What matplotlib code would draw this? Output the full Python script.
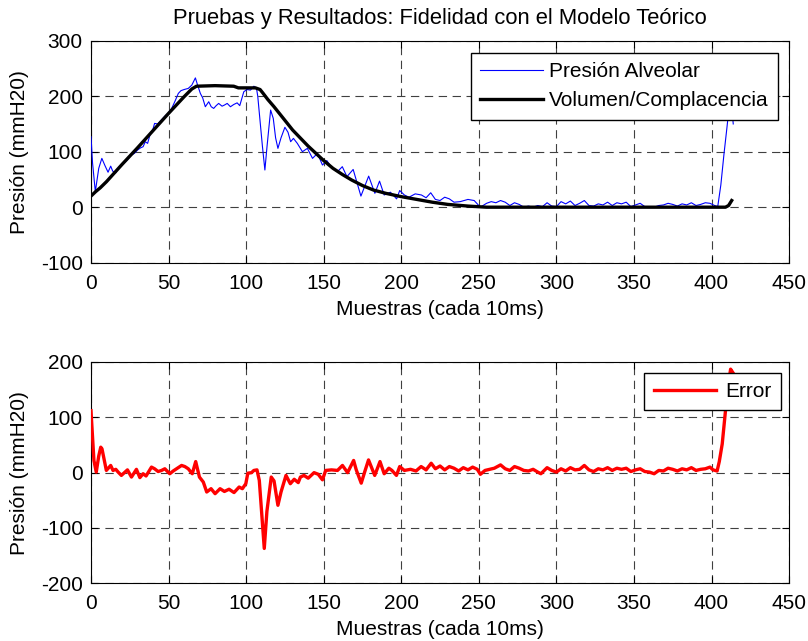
import numpy as np
import matplotlib
matplotlib.use("Agg")
import matplotlib.pyplot as plt

plt.rcParams["font.family"] = ["Liberation Sans", "DejaVu Sans"]
plt.rcParams["lines.scale_dashes"] = False
plt.rcParams["axes.unicode_minus"] = False

# --------------------------------------------------------------------------
# Data
# --------------------------------------------------------------------------
# Presión Alveolar (measured, blue)
PRES_X = [0, 1, 2.8, 5, 7, 9, 11, 12.7, 14, 16, 18, 20.7, 23, 26, 28, 30, 32,
          33.6, 35, 36.5, 38, 40, 41, 43, 45, 48, 50, 52, 54, 56.3, 58, 60,
          62.7, 65, 67.3, 68.5, 70.5, 72, 73.7, 75.9, 77.5, 79.1, 80.7, 82.3,
          84.5, 86, 87.8, 89.9, 92, 94.2, 95.9, 98.5, 100.5, 102.8, 105,
          106.7, 107.5, 108.9, 110.5, 112.1, 113.5, 115.8, 117.5, 119, 120.5,
          122.5, 125, 127, 128.7, 130.5, 133, 136.3, 139.5, 142.8, 146,
          149.2, 152, 155, 158.9, 162, 165, 169, 174, 179, 183, 186, 189, 193,
          197, 199, 202, 205, 209, 213, 216, 219, 222, 225, 228, 231, 234,
          238, 243, 247, 251, 255, 258, 261, 264, 267, 270, 273, 276, 279,
          282, 285, 288, 291, 294, 297, 300, 303, 306, 309, 312, 315, 318,
          321, 324, 327, 330, 333, 336, 339, 342, 345, 348, 351, 354, 357,
          360, 363, 366, 369, 372, 375, 378, 381, 384, 387, 390, 393, 396,
          399, 402, 404, 406, 408, 410, 411.5, 412.5, 414]
PRES_Y = [127, 80, 28, 70, 88, 75, 63, 74, 65, 62, 72, 78, 84, 94, 97, 103, 107,
          109, 118, 115, 130, 141, 151, 150, 156, 165, 170, 178, 190, 205, 210,
          212, 214, 220, 233, 222, 205, 197, 181, 190, 181, 178, 183, 187,
          182, 184, 187, 181, 185, 188, 183, 208, 212, 211, 218, 214, 200,
          157, 110, 67, 110, 175, 160, 125, 106, 125, 144, 135, 118, 124,
          115, 100, 106, 88, 97, 76, 84, 72, 64, 73, 55, 68, 20, 56, 25, 47,
          22, 27, 15, 30, 22, 18, 24, 22, 17, 26, 14, 12, 18, 15, 9, 10, 14,
          12, 0, 7, 10, 8, 12, 9, 3, 8, 5, 0, 2, 0, 3, 1, 8, 2, 1, 10, 6, 11,
          3, 7, 12, 3, 2, 6, 4, 9, 3, 8, 6, 9, 1, 4, 7, 1, 0, 0, 3, 4, 7, 5,
          2, 6, 4, 8, 3, 5, 8, 7, 3, 1, 40, 95, 145, 185, 196, 150]

# Volumen/Complacencia (model, black)
MODEL_X = [0, 3, 6, 10, 20, 30, 40, 50, 60, 65, 68, 80, 92, 95, 100, 106, 109,
           111, 114, 118, 122, 130, 140, 150, 156, 162, 168, 175, 182, 190,
           200, 210, 220, 230, 243, 255, 300, 350, 400, 409, 411, 413]
MODEL_Y = [20, 28, 35, 46, 77, 107, 138, 169, 199, 213, 218, 219, 218, 215,
           215, 215, 212, 205, 194, 181, 167, 139, 110, 84, 70, 59, 49, 39, 31,
           25, 19, 14, 9, 5, 2, 0, 0, 0, 0, 0, 3, 12]

# Error (red)
ERR_X = [0, 1.9, 3.4, 5, 6.3, 7.1, 9.9, 12.7, 14.2, 16, 17.5, 19.6, 21.5, 23.5,
         26.1, 29.3, 31.5, 33.6, 35.5, 39, 41, 43.3, 45.5, 47.6, 50.8, 53,
         55.2, 58.4, 60.5, 62.7, 65.3, 67.5, 69.9, 72.4, 74.6, 77.4, 80, 83.2,
         86, 89, 92.2, 95.5, 97.6, 99.8, 101.1, 103.5, 105, 107, 108.5, 110.2,
         111.7, 113.4, 116.2, 118, 120.5, 122.5, 125.7, 128.5, 131, 133.6, 135,
         137.3, 140, 143.8, 146.5, 149.2, 151.3, 155, 158.9, 162.1, 165.4,
         169.3, 171, 174.2, 176.5, 178.9, 182.9, 186.3, 189, 192, 194, 196.9,
         199, 202, 206, 209.5, 212.8, 216, 219.3, 222, 225, 228, 231, 234,
         237, 240, 243, 246, 249, 251, 254, 257, 260, 264, 267, 270, 273, 276,
         279, 282, 285, 288, 290, 294, 297, 300, 303, 306, 309, 312, 315, 318,
         321, 324, 327, 330, 333, 336, 339, 342, 345, 348, 351, 354, 357, 360,
         363, 366, 369, 372, 375, 378, 381, 384, 387, 390, 393, 396, 399, 401,
         403.6, 405, 406.9, 409, 411.2, 412.3, 413.7]
ERR_Y = [112, 22, 1, 30, 46, 43, 4, 13, 4, 6, 1, -5, 0, 5, -8, 6, -9, -2, -6,
         10, 7, 2, 4, 7, -2, 3, 7, 13, 11, 7, -2, 20, -8, -17, -35, -29, -38,
         -29, -34, -30, -36, -26, -29, -20, -1, 0, 4, 5, -14, -80, -137, -70,
         -8, -15, -59, -35, -5, -20, -12, -18, -8, -5, -10, 0, -3, -13, 4, 5,
         4, 13, 0, 22, 5, -19, 2, 23, -5, 20, -2, 8, 4, -5, 11, 4, 6, 3, 11,
         5, 17, 7, 12, 5, 11, 8, 3, 9, 5, 10, 6, -3, 4, 6, 8, 14, 7, 4, 11, 8,
         4, 3, 6, 1, -2, 9, 4, 1, 7, 3, 9, 5, 6, 13, 5, 2, 7, 5, 9, 4, 8, 6, 8,
         2, 5, 7, 2, 1, -2, 4, 3, 8, 6, 3, 7, 5, 9, 4, 6, 7, 10, 5, 3, 20, 52,
         112, 166, 187, 181]

TITLE = "Pruebas y Resultados: Fidelidad con el Modelo Teórico"
XLABEL = "Muestras (cada 10ms)"
YLABEL = "Presión (mmH20)"

FS = 15


def style_axes(ax, ylim, yticks):
    ax.set_xlim(0, 450)
    ax.set_ylim(*ylim)
    ax.set_xticks(np.arange(0, 451, 50))
    ax.set_yticks(yticks)
    ax.grid(True, color="0.25", linestyle=(0, (6, 4)), linewidth=0.8)
    ax.set_axisbelow(True)
    ax.tick_params(direction="in", length=5, width=0.8, top=True, right=True,
                   labelsize=FS, colors="black")
    ax.tick_params(axis="x", pad=8)
    ax.tick_params(axis="y", pad=6)
    for s in ax.spines.values():
        s.set_linewidth(0.8)
    ax.set_xlabel(XLABEL, fontsize=FS, labelpad=5)
    ax.set_ylabel(YLABEL, fontsize=FS)
    ax.yaxis.set_label_coords(-0.089, 0.5)


fig = plt.figure(figsize=(8.08, 6.41), dpi=100)

# --- Top: measured vs model ---
ax1 = fig.add_axes([0.1126, 0.5902, 0.864, 0.3463])
ax1.plot(PRES_X, PRES_Y, color="#0000ff", linewidth=0.8,
         label="Presión Alveolar", zorder=3)
ax1.plot(MODEL_X, MODEL_Y, color="black", linewidth=2.4,
         label="Volumen/Complacencia", zorder=4)
style_axes(ax1, (-100, 300), np.arange(-100, 301, 100))
ax1.set_title(TITLE, fontsize=15.8, pad=12)
leg1 = ax1.legend(loc="upper right", bbox_to_anchor=(0.984, 0.946),
                  borderaxespad=0, fontsize=FS, fancybox=False, framealpha=1,
                  edgecolor="black", handlelength=3.0, handletextpad=0.3,
                  borderpad=0.45, labelspacing=0.5)
leg1.get_frame().set_linewidth(1.0)
leg1.set_zorder(10)

# --- Bottom: error ---
ax2 = fig.add_axes([0.1126, 0.09, 0.864, 0.3453])
ax2.plot(ERR_X, ERR_Y, color="#ff0000", linewidth=2.4, label="Error", zorder=3)
style_axes(ax2, (-200, 200), np.arange(-200, 201, 100))
leg2 = ax2.legend(loc="upper right", bbox_to_anchor=(0.9885, 0.952),
                  borderaxespad=0, fontsize=FS, fancybox=False, framealpha=1,
                  edgecolor="black", handlelength=3.0, handletextpad=0.45,
                  borderpad=0.45)
leg2.get_frame().set_linewidth(1.0)
leg2.set_zorder(10)

fig.savefig("out.png", dpi=100)
